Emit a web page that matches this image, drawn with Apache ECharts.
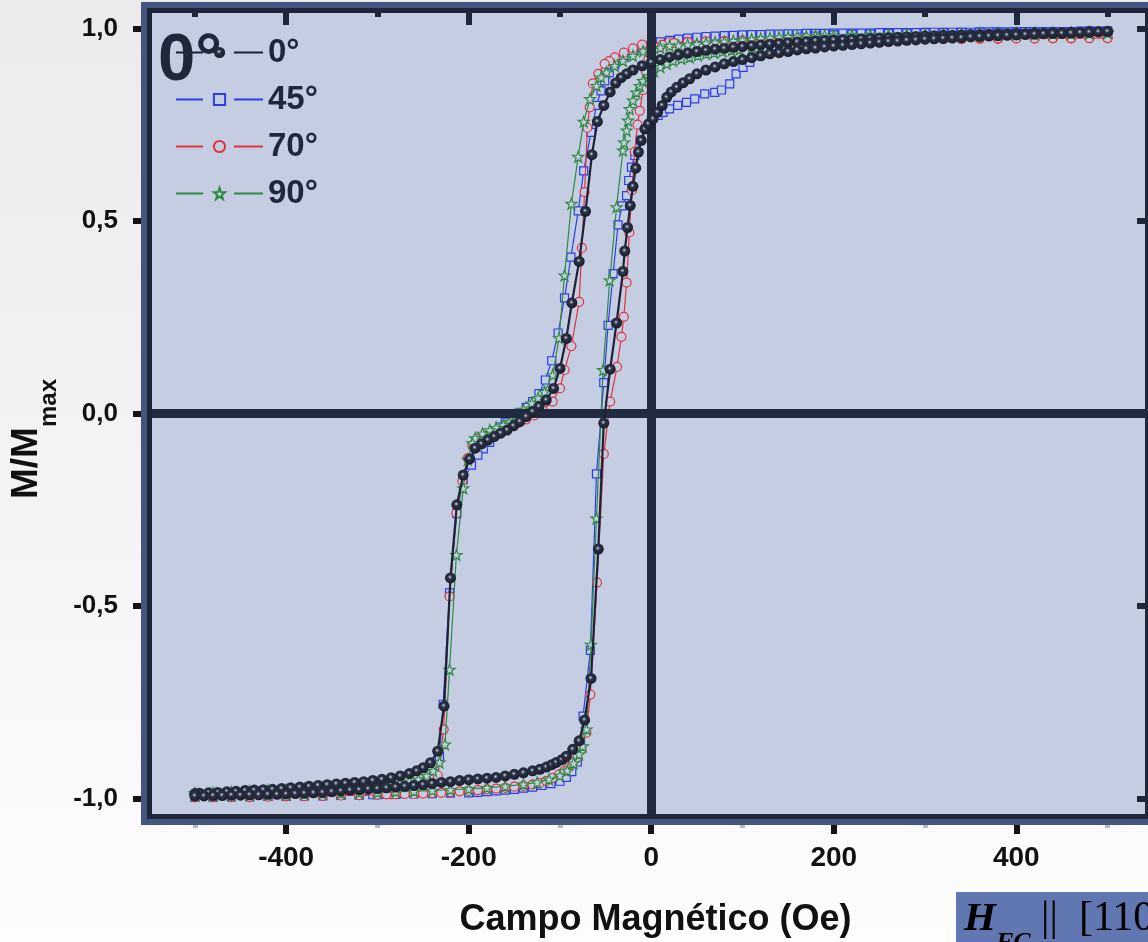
<!DOCTYPE html>
<html>
<head>
<meta charset="utf-8">
<script src="https://cdn.jsdelivr.net/npm/echarts@6.0.0/dist/echarts.min.js"></script>
<style>
  html, body { margin: 0; padding: 0; }
  body { background: linear-gradient(180deg, #ebebeb 0%, #f4f4f4 55%, #fdfdfd 100%); }
  #chart { width: 1148px; height: 942px; }
</style>
</head>
<body>
<div id="chart"></div>
<script>
// Hysteresis loops: [field H (Oe), M/Mmax], descending branch then ascending branch.

// 0 deg
const down0 = [[500,.992],[490,.991],[480,.991],[470,.990],[460,.990],[450,.989],[440,.989],[430,.988],[420,.988],[410,.987],[400,.987],[390,.986],[380,.986],[370,.985],[360,.984],[350,.984],[340,.983],[330,.982],[320,.982],[310,.981],[300,.980],[290,.979],[280,.978],[270,.977],[260,.976],[250,.975],[240,.974],[230,.973],[220,.972],[210,.971],[200,.970],[190,.969],[180,.968],[170,.966],[160,.965],[150,.963],[140,.961],[130,.959],[120,.957],[110,.955],[100,.953],[90,.951],[80,.948],[70,.946],[60,.943],[50,.940],[40,.936],[30,.932],[20,.926],[10,.919],[0,.912],[-10,.903],[-20,.892],[-27,.882],[-33,.872],[-39,.858],[-45,.835],[-52,.800],[-59,.758],[-65,.672],[-72,.525],[-79,.395],[-87,.287],[-93,.195],[-100,.117],[-107,.065],[-115,.035],[-123,.018],[-130,.005],[-137,-.008],[-144,-.021],[-151,-.032],[-158,-.043],[-165,-.051],[-172,-.060],[-179,-.069],[-186,-.079],[-193,-.090],[-199,-.118],[-206,-.160],[-213,-.237],[-220,-.427],[-227,-.760],[-234,-.877],[-242,-.907],[-250,-.920],[-257,-.928],[-265,-.935],[-275,-.941],[-285,-.946],[-295,-.950],[-305,-.953],[-315,-.956],[-325,-.958],[-335,-.960],[-345,-.962],[-355,-.964],[-365,-.966],[-375,-.968],[-385,-.970],[-395,-.972],[-405,-.974],[-415,-.976],[-425,-.977],[-435,-.978],[-445,-.979],[-455,-.981],[-465,-.982],[-475,-.984],[-485,-.985],[-495,-.986],[-500,-.987]];
const up0 = [[-500,-.993],[-490,-.993],[-480,-.992],[-470,-.992],[-460,-.991],[-450,-.991],[-440,-.990],[-430,-.990],[-420,-.989],[-410,-.989],[-400,-.988],[-390,-.987],[-380,-.986],[-370,-.985],[-360,-.984],[-350,-.982],[-340,-.980],[-330,-.978],[-320,-.977],[-310,-.975],[-300,-.974],[-290,-.972],[-280,-.970],[-270,-.968],[-260,-.966],[-250,-.964],[-240,-.961],[-230,-.958],[-220,-.956],[-210,-.953],[-200,-.951],[-190,-.949],[-180,-.947],[-170,-.945],[-160,-.941],[-150,-.937],[-140,-.933],[-130,-.928],[-122,-.924],[-115,-.918],[-109,-.912],[-104,-.906],[-98,-.899],[-93,-.890],[-86,-.872],[-79,-.850],[-73,-.796],[-66,-.688],[-58,-.352],[-52,-.025],[-45,.115],[-38,.235],[-31,.369],[-29,.422],[-26,.483],[-23,.540],[-20,.590],[-17,.637],[-14,.679],[-11,.709],[-7,.739],[-3,.752],[2,.765],[7,.782],[12,.800],[17,.821],[22,.835],[28,.847],[35,.859],[42,.869],[50,.882],[60,.892],[70,.900],[80,.908],[90,.914],[100,.919],[110,.924],[120,.929],[130,.934],[140,.937],[150,.940],[160,.944],[170,.947],[180,.949],[190,.952],[200,.954],[210,.956],[220,.958],[230,.960],[240,.962],[250,.964],[260,.966],[270,.967],[280,.969],[290,.970],[300,.972],[310,.973],[320,.974],[330,.975],[340,.976],[350,.978],[360,.979],[370,.980],[380,.981],[390,.982],[400,.983],[410,.984],[420,.985],[430,.986],[440,.987],[450,.987],[460,.988],[470,.989],[480,.990],[490,.991],[500,.992]];

// 45 deg
const down45 = [[500,.993],[490,.993],[480,.993],[470,.993],[460,.992],[450,.992],[440,.992],[430,.992],[420,.992],[410,.992],[400,.992],[390,.991],[380,.991],[370,.991],[360,.991],[350,.990],[340,.990],[330,.990],[320,.990],[310,.990],[300,.990],[290,.989],[280,.989],[270,.989],[260,.989],[250,.989],[240,.988],[230,.988],[220,.988],[210,.988],[200,.988],[190,.987],[180,.987],[170,.987],[160,.986],[150,.986],[140,.985],[130,.985],[120,.984],[110,.984],[100,.983],[90,.982],[80,.981],[70,.980],[60,.979],[50,.977],[40,.975],[30,.972],[20,.969],[10,.965],[0,.958],[-10,.950],[-20,.940],[-30,.925],[-40,.905],[-46,.885],[-51,.864],[-55,.838],[-60,.800],[-66,.730],[-74,.630],[-80,.526],[-88,.406],[-95,.300],[-102,.209],[-109,.137],[-116,.087],[-123,.052],[-130,.031],[-137,.016],[-145,.001],[-153,-.012],[-160,-.024],[-166,-.035],[-171,-.050],[-177,-.075],[-184,-.092],[-190,-.108],[-197,-.134],[-206,-.172],[-213,-.260],[-221,-.466],[-228,-.755],[-232,-.890],[-238,-.940],[-245,-.965],[-255,-.978],[-265,-.984],[-275,-.987],[-285,-.988],[-295,-.989],[-305,-.990],[-320,-.990],[-340,-.991],[-360,-.992],[-380,-.992],[-400,-.993],[-420,-.993],[-440,-.994],[-460,-.995],[-480,-.995],[-500,-.996]];
const up45 = [[-500,-.996],[-480,-.996],[-460,-.995],[-440,-.995],[-420,-.994],[-400,-.994],[-380,-.993],[-360,-.993],[-340,-.992],[-320,-.991],[-300,-.990],[-280,-.989],[-260,-.988],[-240,-.987],[-220,-.986],[-200,-.985],[-190,-.984],[-180,-.982],[-170,-.980],[-160,-.978],[-150,-.976],[-140,-.973],[-130,-.970],[-120,-.966],[-110,-.961],[-100,-.955],[-93,-.945],[-87,-.930],[-81,-.905],[-77.5,-.860],[-74.7,-.786],[-66.7,-.615],[-60,-.157],[-52,.080],[-47.3,.229],[-41.8,.363],[-36.4,.490],[-32,.539],[-27,.566],[-24.7,.605],[-21.7,.640],[-18,.670],[-12,.710],[-6,.740],[0,.760],[7.5,.774],[13,.782],[20,.791],[29,.800],[38.6,.808],[47.7,.817],[58.6,.830],[69.6,.834],[77,.840],[86,.856],[93,.882],[100.6,.899],[108,.912],[113,.929],[122.5,.942],[132,.955],[142,.965],[152,.972],[165,.977],[180,.980],[200,.983],[220,.985],[240,.986],[260,.987],[280,.988],[300,.989],[320,.989],[340,.990],[360,.990],[380,.991],[400,.991],[420,.992],[440,.992],[460,.992],[480,.993],[500,.993]];

// 70 deg
const down70 = [[500,.975],[480,.975],[460,.974],[440,.974],[420,.974],[400,.974],[380,.973],[360,.973],[340,.973],[320,.972],[300,.972],[280,.972],[260,.971],[240,.971],[220,.970],[200,.970],[180,.970],[160,.969],[140,.969],[120,.968],[100,.968],[80,.967],[60,.966],[40,.965],[20,.964],[0,.962],[-10,.958],[-20,.948],[-30,.937],[-40,.925],[-46,.915],[-51,.908],[-58,.882],[-64,.857],[-67.5,.795],[-70,.742],[-73,.575],[-76,.430],[-79,.290],[-87.5,.175],[-95,.113],[-100,.065],[-108,.031],[-119,.009],[-128,-.005],[-137,-.015],[-146,-.025],[-155,-.035],[-164,-.044],[-173,-.052],[-182,-.058],[-190,-.066],[-196,-.082],[-201,-.116],[-207,-.175],[-213.5,-.259],[-221,-.475],[-227.4,-.820],[-234,-.940],[-243,-.975],[-255,-.984],[-270,-.987],[-285,-.989],[-300,-.990],[-320,-.991],[-340,-.991],[-360,-.992],[-380,-.992],[-400,-.993],[-420,-.993],[-440,-.994],[-460,-.994],[-480,-.995],[-500,-.995]];
const up70 = [[-500,-.997],[-480,-.997],[-460,-.996],[-440,-.996],[-420,-.995],[-400,-.994],[-380,-.994],[-360,-.993],[-340,-.992],[-320,-.991],[-300,-.990],[-290,-.989],[-280,-.989],[-270,-.988],[-260,-.988],[-250,-.987],[-240,-.986],[-230,-.985],[-220,-.983],[-210,-.981],[-200,-.980],[-190,-.978],[-180,-.976],[-170,-.974],[-160,-.972],[-150,-.969],[-140,-.967],[-130,-.963],[-122,-.960],[-115,-.954],[-108,-.946],[-101,-.937],[-95,-.928],[-90,-.918],[-86,-.907],[-81,-.892],[-76.5,-.872],[-71,-.829],[-66.7,-.730],[-59.4,-.439],[-52,-.105],[-45,.031],[-37.5,.121],[-32.7,.199],[-30,.251],[-27,.340],[-24,.470],[-21,.580],[-18,.680],[-15,.750],[-12.6,.786],[-9,.840],[-6,.890],[-3,.920],[0,.938],[5,.950],[12,.957],[25,.962],[40,.964],[60,.966],[80,.967],[100,.968],[120,.968],[140,.969],[160,.970],[180,.970],[200,.971],[220,.971],[240,.972],[260,.972],[280,.972],[300,.973],[320,.973],[340,.973],[360,.974],[380,.974],[400,.974],[420,.974],[440,.975],[460,.975],[480,.975],[500,.975]];

// 90 deg
const down90 = [[500,.990],[480,.990],[460,.989],[440,.989],[420,.988],[400,.988],[380,.987],[360,.987],[340,.986],[320,.986],[300,.985],[280,.985],[260,.984],[240,.984],[220,.983],[200,.982],[190,.982],[180,.981],[170,.980],[160,.979],[150,.978],[140,.977],[130,.975],[120,.974],[110,.972],[100,.970],[90,.968],[80,.966],[70,.964],[60,.962],[50,.960],[40,.958],[30,.956],[20,.955],[10,.950],[0,.946],[-9,.941],[-20,.929],[-31,.916],[-40,.903],[-49,.886],[-55,.873],[-60,.851],[-67,.817],[-74,.758],[-80,.667],[-87.5,.545],[-95,.359],[-101,.196],[-108,.100],[-117,.056],[-124,.040],[-131,.027],[-140,.010],[-148,-.005],[-155,-.022],[-162,-.030],[-170,-.037],[-177,-.043],[-185,-.052],[-193,-.064],[-196,-.077],[-201,-.120],[-206,-.194],[-213.5,-.367],[-221,-.665],[-226,-.859],[-232,-.906],[-239,-.928],[-246,-.941],[-255,-.950],[-265,-.955],[-275,-.959],[-285,-.962],[-300,-.965],[-320,-.968],[-340,-.971],[-360,-.973],[-380,-.975],[-400,-.977],[-420,-.979],[-440,-.981],[-460,-.983],[-480,-.985],[-500,-.986]];
const up90 = [[-500,-.992],[-480,-.992],[-460,-.991],[-440,-.991],[-420,-.990],[-400,-.989],[-380,-.988],[-360,-.987],[-340,-.986],[-320,-.985],[-300,-.984],[-280,-.982],[-260,-.981],[-240,-.979],[-220,-.977],[-200,-.975],[-180,-.972],[-160,-.968],[-140,-.963],[-125,-.958],[-112,-.950],[-100,-.940],[-92,-.927],[-85,-.908],[-79,-.885],[-75,-.864],[-71,-.820],[-66,-.600],[-60,-.272],[-52.8,.113],[-45.5,.346],[-38,.536],[-31,.683],[-29.8,.704],[-27,.735],[-25.4,.761],[-23.6,.791],[-20,.813],[-16.2,.834],[-12.6,.851],[-9,.864],[-3,.876],[3,.889],[10,.900],[17,.908],[24,.916],[33,.921],[42,.925],[51,.930],[60,.934],[69,.937],[78,.940],[88,.943],[97,.946],[110,.950],[120,.953],[130,.955],[145,.958],[160,.961],[180,.964],[200,.968],[220,.970],[240,.972],[260,.974],[280,.976],[300,.978],[320,.979],[340,.980],[360,.981],[380,.982],[400,.984],[420,.985],[440,.986],[460,.986],[480,.987],[500,.988]];

const seriesNames = ['0°', '45°', '70°', '90°'];
const xTicks = [-400, -200, 0, 200, 400];
const xMinorTicks = [-500, -300, -100, 100, 300, 500];
const xTopTicks = [-400, -200, 200, 400];
const yTicks = [-1, -0.5, 0, 0.5, 1];
const xTitle = 'Campo Magnético (Oe)';

const FONT = '"Liberation Sans", Arial, sans-serif';
const SERIF = '"Liberation Serif", "DejaVu Serif", serif';
const PLOT_BG = '#c5cde2';
const INK = '#1f273b';
const GRID = { left: 152, top: 13, width: 993, height: 801 };
const STAR = 'path://M0,-10L2.35,-3.24L9.51,-3.09L3.8,1.24L5.88,8.09L0,4L-5.88,8.09L-3.8,1.24L-9.51,-3.09L-2.35,-3.24Z';

// shaded ball used for the 0 deg markers
const sphere = {
  type: 'radial', x: 0.45, y: 0.42, r: 0.6,
  colorStops: [
    { offset: 0, color: '#d3d8e2' },
    { offset: 0.13, color: '#8a91a3' },
    { offset: 0.32, color: '#2b3246' },
    { offset: 1, color: '#181d2b' }
  ]
};

const loop = (down, up) => down.concat(up);

function curve(name, data, color, symbol, size, z, fill, width) {
  return {
    name, type: 'line', data, z,
    symbol, symbolSize: size, showSymbol: true,
    lineStyle: { color, width },
    itemStyle: { color: fill, borderColor: color, borderWidth: fill === PLOT_BG ? 1.2 : 0 },
    emphasis: { disabled: true },
    animation: false
  };
}

const chart = echarts.init(document.getElementById('chart'), null, { renderer: 'canvas' });

const axisText = { fontFamily: FONT, fontWeight: 'bold', color: '#111' };
const hiddenLabel = { show: false };
const xBase = { type: 'value', min: -547, max: 541, axisLine: { show: false, onZero: false }, splitLine: { show: false } };
const yBase = { type: 'value', min: -1.04, max: 1.04, axisLine: { show: false, onZero: false }, splitLine: { show: false } };

chart.setOption({
  animation: false,
  grid: {
    left: GRID.left, top: GRID.top, width: GRID.width, height: GRID.height,
    show: true, backgroundColor: PLOT_BG, borderWidth: 0,
    containLabel: false, outerBoundsMode: 'none'
  },
  xAxis: [
    Object.assign({}, xBase, {
      position: 'bottom',
      axisTick: { show: true, length: 20, customValues: xTicks, lineStyle: { color: '#141414', width: 6 } },
      axisLabel: Object.assign({ customValues: xTicks, margin: 30, fontSize: 28 }, axisText),
      name: xTitle, nameLocation: 'middle', nameGap: 88,
      nameTextStyle: { fontFamily: FONT, fontWeight: 'bold', fontSize: 36, color: '#111', padding: [0, 0, 0, 14] }
    }),
    Object.assign({}, xBase, {
      position: 'bottom',
      axisTick: { show: true, length: 14, customValues: xMinorTicks, lineStyle: { color: '#b5b9c3', width: 5 } },
      axisLabel: hiddenLabel
    }),
    Object.assign({}, xBase, {
      position: 'top',
      axisTick: { show: true, inside: true, length: 12, customValues: xTopTicks, lineStyle: { color: INK, width: 6 } },
      axisLabel: hiddenLabel
    }),
    Object.assign({}, xBase, {
      position: 'top',
      axisTick: { show: true, inside: true, length: 4, customValues: xMinorTicks, lineStyle: { color: INK, width: 6 } },
      axisLabel: hiddenLabel
    })
  ],
  yAxis: [
    Object.assign({}, yBase, {
      position: 'left',
      axisTick: { show: true, length: 19, customValues: yTicks, lineStyle: { color: '#141414', width: 6 } },
      axisLabel: Object.assign({ customValues: yTicks, margin: 34, fontSize: 26,
        formatter: v => v.toFixed(1).replace('.', ',') }, axisText)
    }),
    Object.assign({}, yBase, {
      position: 'right',
      axisTick: { show: true, inside: true, length: 8, customValues: yTicks, lineStyle: { color: INK, width: 6 } },
      axisLabel: hiddenLabel
    })
  ],
  legend: {
    data: seriesNames, orient: 'vertical', left: 170, top: 31,
    itemWidth: 87, itemHeight: 14, itemGap: 14, selectedMode: false,
    lineStyle: { type: [27, 31, 29, 5] },
    textStyle: { fontFamily: FONT, fontWeight: 'bold', fontSize: 33, color: INK }
  },
  series: [
    curve('45°', loop(down45, up45), '#2b3ee6', 'rect', 8, 2, PLOT_BG, 1.2),
    curve('70°', loop(down70, up70), '#e2333f', 'circle', 9, 3, PLOT_BG, 1.2),
    curve('90°', loop(down90, up90), '#2e8a43', STAR, 11, 4, PLOT_BG, 1.2),
    curve('0°', loop(down0, up0), '#1d2336', 'circle', 11, 5, sphere, 2.2),
    {
      name: 'zero-lines', type: 'line', data: [[0, 0]], symbol: 'none', silent: true, z: 10,
      lineStyle: { opacity: 0 }, animation: false,
      markLine: {
        silent: true, symbol: ['none', 'none'], label: { show: false }, animation: false,
        lineStyle: { color: '#222a3f', width: 9, type: 'solid' },
        emphasis: { disabled: true },
        data: [{ xAxis: 0 }, { yAxis: 0 }]
      }
    }
  ],
  graphic: [
    // double frame around the plot area
    { type: 'rect', z: 50, silent: true,
      shape: { x: GRID.left - 2.5, y: GRID.top - 2.5, width: GRID.width + 5, height: GRID.height + 5 },
      style: { fill: null, stroke: '#1f2639', lineWidth: 5 } },
    { type: 'rect', z: 50, silent: true,
      shape: { x: GRID.left - 8, y: GRID.top - 8, width: GRID.width + 16, height: GRID.height + 16 },
      style: { fill: null, stroke: '#445680', lineWidth: 6 } },
    // large angle tag in the legend corner
    { type: 'text', z: 60, silent: true, x: 158, y: 62,
      style: { text: '0°', fontFamily: FONT, fontWeight: 'bold', fontSize: 67, fill: INK, verticalAlign: 'middle' } },
    // y axis title with subscript
    { type: 'text', z: 60, silent: true, x: 27, y: 439, rotation: Math.PI / 2,
      style: {
        text: '{m|M/M}{s|max}', align: 'center', verticalAlign: 'middle',
        rich: {
          m: { fontFamily: FONT, fontWeight: 'bold', fontSize: 37, lineHeight: 68, fill: '#111' },
          s: { fontFamily: FONT, fontWeight: 'bold', fontSize: 24, verticalAlign: 'bottom', fill: '#111' }
        }
      } },
    // field-cooling direction tag
    { type: 'rect', z: 60, silent: true, shape: { x: 956, y: 892, width: 200, height: 60 }, style: { fill: '#6177b2' } },
    { type: 'text', z: 61, silent: true, x: 964, y: 919,
      style: {
        text: '{h|H}{f|FC}{t| ||  [110]}', verticalAlign: 'middle',
        rich: {
          h: { fontFamily: SERIF, fontWeight: 'bold', fontStyle: 'italic', fontSize: 41, lineHeight: 46, fill: '#000' },
          f: { fontFamily: SERIF, fontWeight: 'bold', fontStyle: 'italic', fontSize: 26, verticalAlign: 'bottom', fill: '#000', padding: [0, 0, -14, 0] },
          t: { fontFamily: SERIF, fontSize: 42, lineHeight: 46, fill: '#000' }
        }
      } }
  ]
});
</script>
</body>
</html>
